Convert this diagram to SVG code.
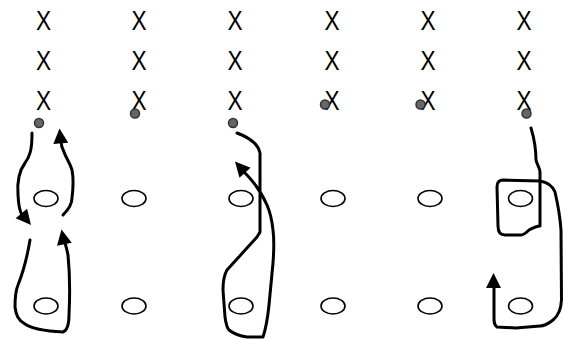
<svg xmlns="http://www.w3.org/2000/svg" xmlns:xlink="http://www.w3.org/1999/xlink" width="563" height="339" viewBox="0 0 563 339">
<style>
.x{font-family:"Liberation Sans",Arial,sans-serif;font-size:28px;fill:#000;text-anchor:middle}
.o{fill:#fff;stroke:#000;stroke-width:1.6}
.d{fill:#666;stroke:#333;stroke-width:1.5}
.c{fill:none;stroke:#000;stroke-width:3;stroke-linecap:round;stroke-linejoin:round}
</style>
<defs>
<path id="ah" d="M0,0 L-15,-7.5 L-15,7.5 Z" fill="#000"/>
</defs>
<rect width="563" height="339" fill="#fff"/>
<g id="xs">
<g id="col1-x"><text class="x" transform="translate(43.5,30) scale(0.81,1)">X</text><text class="x" transform="translate(43.5,69.5) scale(0.81,1)">X</text><text class="x" transform="translate(43.5,109.5) scale(0.81,1)">X</text></g>
<g id="col2-x"><text class="x" transform="translate(139,30) scale(0.81,1)">X</text><text class="x" transform="translate(139,69.5) scale(0.81,1)">X</text><text class="x" transform="translate(139,109.5) scale(0.81,1)">X</text></g>
<g id="col3-x"><text class="x" transform="translate(235,30) scale(0.81,1)">X</text><text class="x" transform="translate(235,69.5) scale(0.81,1)">X</text><text class="x" transform="translate(235,109.5) scale(0.81,1)">X</text></g>
<g id="col4-x"><text class="x" transform="translate(332,30) scale(0.81,1)">X</text><text class="x" transform="translate(332,69.5) scale(0.81,1)">X</text><text class="x" transform="translate(332,109.5) scale(0.81,1)">X</text></g>
<g id="col5-x"><text class="x" transform="translate(428,30) scale(0.81,1)">X</text><text class="x" transform="translate(428,69.5) scale(0.81,1)">X</text><text class="x" transform="translate(428,109.5) scale(0.81,1)">X</text></g>
<g id="col6-x"><text class="x" transform="translate(524,30) scale(0.81,1)">X</text><text class="x" transform="translate(524,69.5) scale(0.81,1)">X</text><text class="x" transform="translate(524,109.5) scale(0.81,1)">X</text></g>
</g>
<g id="ovals">
<g id="o1a"><ellipse class="o" cx="46" cy="198.5" rx="12" ry="8"/></g>
<g id="o2a"><ellipse class="o" cx="134" cy="198.5" rx="12" ry="8"/></g>
<g id="o3a"><ellipse class="o" cx="241" cy="198.5" rx="12" ry="8"/></g>
<g id="o4a"><ellipse class="o" cx="333" cy="198.5" rx="12" ry="8"/></g>
<g id="o5a"><ellipse class="o" cx="430" cy="198.5" rx="12" ry="8"/></g>
<g id="o6a"><ellipse class="o" cx="520.5" cy="198.5" rx="12" ry="8"/></g>
<g id="o1b"><ellipse class="o" cx="46" cy="306" rx="12" ry="8"/></g>
<g id="o2b"><ellipse class="o" cx="134" cy="306" rx="12" ry="8"/></g>
<g id="o3b"><ellipse class="o" cx="241" cy="306" rx="12" ry="8"/></g>
<g id="o4b"><ellipse class="o" cx="333" cy="306" rx="12" ry="8"/></g>
<g id="o5b"><ellipse class="o" cx="430" cy="306" rx="12" ry="8"/></g>
<g id="o6b"><ellipse class="o" cx="520.5" cy="306" rx="12" ry="8"/></g>
</g>
<g id="connectors">
<path class="c" d="M32,133 C32,150 30,156 25,163 C19,171 17,182 18,195 C18.5,205 19,210 22,215"/>
<use xlink:href="#ah" transform="translate(31,225) rotate(50)"/>
<path class="c" d="M63,215 C67,211 72,205 72,198 C73,190 74,180 72,170 C70,163 66,158 64,152 C62,148 61,146 61,141"/>
<use xlink:href="#ah" transform="translate(59.5,128.5) rotate(-95)"/>
<path class="c" d="M30,240 C27,258 22,275 18,285 C15,292 15,300 15,307 C16,315 18,320 25,324 C32,329 45,331 63,332 C68,330 69,322 69,315 C70,295 70,275 68,255 C67,250 66,246 65,243"/>
<use xlink:href="#ah" transform="translate(61.5,229.5) rotate(-101)"/>
<path class="c" d="M237,133 C248,137 258,143 260,153 L260,232 C259,234 258,235 257,237 L227,270 C224,275 223,282 223,290 L225,317 C226,324 227,328 229,330 C234,334 240,336 247,337 L263,337 C266,328 268,315 269,305 L273,263 C274,250 274,238 273,230 C272,220 270,212 267,205 C263,196 258,188 253,182 C250,178 246,174 244,172"/>
<use xlink:href="#ah" transform="translate(235,161.5) rotate(-132)"/>
<path class="c" d="M531,128 C534,138 536,150 536,160 C537,165 540,168 540,172 L540,226 C538,226 532,228 529,230 C526,233 524,235 521,235 L505,235 C500,235 498,231 498,226 L497,187 C497,182 499,180 503,180 L540,181 C547,182 552,185 555,192 C558,205 560,215 561,230 L561.5,300 C561,310 558,316 553,320 C548,324 545,326 540,326 L516,328 L497,327 C494,325 494,322 494,318 L494,286"/>
<use xlink:href="#ah" transform="translate(493.5,273) rotate(-90)"/>
</g>
<g id="dots">
<g id="dot1"><circle class="d" cx="39" cy="123" r="4.5"/></g>
<g id="dot2"><circle class="d" cx="135" cy="113.5" r="4.5"/></g>
<g id="dot3"><circle class="d" cx="233" cy="123" r="4.5"/></g>
<g id="dot4"><circle class="d" cx="325" cy="104.5" r="4.5"/></g>
<g id="dot5"><circle class="d" cx="420.5" cy="104.5" r="4.5"/></g>
<g id="dot6"><circle class="d" cx="526.5" cy="113.5" r="4.5"/></g>
</g>
</svg>
